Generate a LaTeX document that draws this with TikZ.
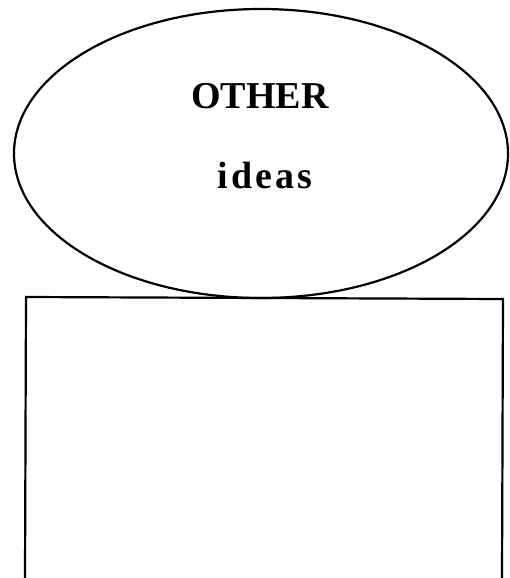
\documentclass[tikz,border=0pt]{standalone}
\usepackage{fontspec}
\setmainfont{Liberation Serif}
\usetikzlibrary{shapes.geometric}
\begin{document}
\begin{tikzpicture}[x=1pt,y=-1pt,
  outline/.style={draw=black, line width=2.2pt},
  label/.style={font=\fontsize{38}{40}\selectfont\bfseries, inner sep=0pt}]
\useasboundingbox (0,0) rectangle (510,578);
\node[outline, ellipse, minimum width=494pt, minimum height=289pt, inner sep=0pt] (oval) at (261,153.5) {};
\node[label, anchor=base] (other) at (260,108) {OTHER};
\node[label, anchor=base] (ideas) at (265,188) {\addfontfeature{LetterSpace=8}ideas};
\coordinate (bl) at (25,578);
\coordinate (tl) at (26,297);
\coordinate (tr) at (503,299);
\coordinate (br) at (502,578);
\draw[outline, line join=miter] (bl) -- (tl) -- (tr) -- (br);
\end{tikzpicture}
\end{document}
